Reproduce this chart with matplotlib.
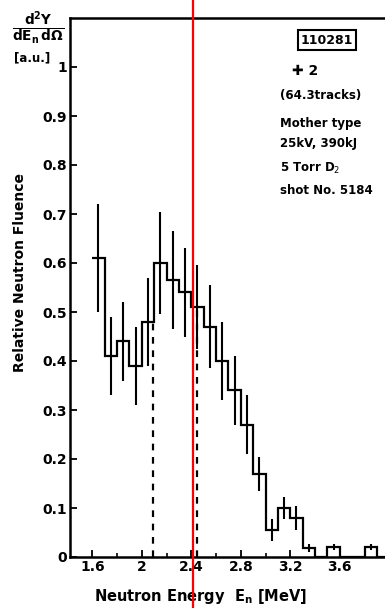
import matplotlib
matplotlib.use("Agg")
import matplotlib.pyplot as plt
import numpy as np

# ---- data ----
bin_lo = [1.6, 1.7, 1.8, 1.9, 2.0, 2.1, 2.2, 2.3, 2.4, 2.5, 2.6, 2.7,
          2.8, 2.9, 3.0, 3.1, 3.2, 3.3, 3.4, 3.5, 3.6, 3.7, 3.8, 3.9]
bin_width = 0.1
fluence = [0.61, 0.41, 0.44, 0.39, 0.48, 0.60, 0.565, 0.54, 0.51, 0.47, 0.40, 0.34,
           0.27, 0.17, 0.055, 0.10, 0.08, 0.018, 0.0, 0.02, 0.0, 0.0, 0.02, 0.0]
fluence_err = [0.11, 0.08, 0.08, 0.08, 0.09, 0.105, 0.10, 0.09, 0.085, 0.085, 0.08, 0.07,
               0.06, 0.035, 0.022, 0.022, 0.025, 0.008, 0.0, 0.006, 0.0, 0.0, 0.006, 0.0]
dashed_energy = [2.09, 2.45]
dashed_top = [0.48, 0.51]
red_marker_energy = 2.41

x_ticks = [1.6, 2.0, 2.4, 2.8, 3.2, 3.6, 4.0]
x_tick_labels = ["1.6", "2", "2.4", "2.8", "3.2", "3.6", "4"]
x_minor = [1.8, 2.2, 2.6, 3.0, 3.4, 3.8]
y_ticks = [0, 0.1, 0.2, 0.3, 0.4, 0.5, 0.6, 0.7, 0.8, 0.9, 1.0]
y_tick_labels = ["0", "0.1", "0.2", "0.3", "0.4", "0.5", "0.6", "0.7", "0.8", "0.9", "1"]

W, H = 385, 608
fig = plt.figure(figsize=(W / 100, H / 100), dpi=100)
ax = fig.add_axes([70 / W, 51 / H, 344 / W, 539 / H])

edges = np.array(bin_lo + [bin_lo[-1] + bin_width])
vals = np.array(fluence)
errs = np.array(fluence_err)
centers = np.array(bin_lo) + bin_width / 2

ax.stairs(vals, edges, baseline=None, color="black", lw=1.6)
ax.vlines(centers, vals - errs, vals + errs, color="black", lw=1.5)
ax.vlines(dashed_energy, 0, dashed_top, color="black", lw=1.6,
          linestyles=(0, (3, 3)))
ax.axvline(red_marker_energy, ymin=-0.2, ymax=1.2, color="red", lw=1.6,
           clip_on=False, zorder=5)

ax.set_xlim(1.42, 4.2)
ax.set_ylim(0, 1.1)
ax.set_xticks(x_ticks)
ax.set_xticklabels(x_tick_labels)
ax.set_xticks(x_minor, minor=True)
ax.set_yticks(y_ticks)
ax.set_yticklabels(y_tick_labels)
ax.tick_params(axis="both", which="major", direction="in", length=5, width=1.3,
               labelsize=10, pad=2)
ax.tick_params(axis="x", which="minor", direction="in", length=3, width=1.2)
for lab in ax.get_xticklabels() + ax.get_yticklabels():
    lab.set_fontweight("bold")
for s in ax.spines.values():
    s.set_linewidth(1.8)

ax.set_xlabel(r"Neutron Energy  $\mathbf{E_n}$ [MeV]", fontsize=10.5,
              fontweight="bold")
ax.xaxis.set_label_coords((200 - 70) / 344, -(597 - 557) / 539)
ax.xaxis.label.set_va("center")
fig.text(20 / W, 1 - 273 / H, "Relative Neutron Fluence", rotation=90,
         ha="center", va="center", fontsize=10, fontweight="bold")

fig.text(12 / W, 1 - 28 / H, r"$\mathbf{\frac{d^2Y}{dE_n\,d\Omega}}$", ha="left",
         va="center", fontsize=14)
fig.text(14 / W, 1 - 58 / H, "[a.u.]", ha="left", va="center", fontsize=8.5,
         fontweight="bold")

fig.text(327 / W, 1 - 40 / H, "110281", ha="center", va="center", fontsize=9,
         fontweight="bold",
         bbox=dict(boxstyle="square,pad=0.25", fc="white", ec="black", lw=1.5))
fig.text(292 / W, 1 - 71 / H, "\u271a 2", ha="left", va="center", fontsize=10,
         fontweight="bold")
right_notes = ["(64.3tracks)", "Mother type", "25kV, 390kJ", r"5 Torr D$_2$",
               "shot No. 5184"]
note_y = [95, 123, 143, 168, 190]
for t, yy in zip(right_notes, note_y):
    fig.text(280 / W, 1 - yy / H, t, ha="left", va="center", fontsize=8.5,
             fontweight="bold")

fig.savefig("out.png", dpi=100)
